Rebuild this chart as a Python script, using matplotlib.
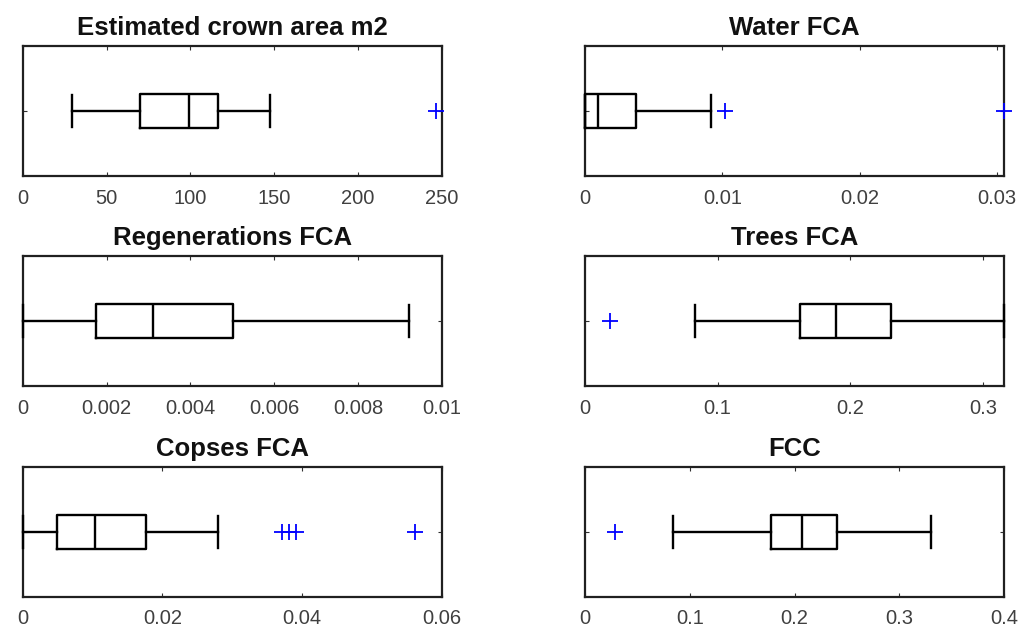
import matplotlib
matplotlib.use("Agg")
import matplotlib.pyplot as plt

# ---- data ----
titles = ["Estimated crown area m2", "Water FCA", "Regenerations FCA",
          "Trees FCA", "Copses FCA", "FCC"]

whislo = [29.6, 0.0, 0.0, 0.0833, 0.0, 0.0839]
q1 = [69.8, 0.0, 0.00175, 0.162, 0.00495, 0.178]
med = [99.2, 0.00097, 0.00312, 0.189, 0.0104, 0.207]
q3 = [116.3, 0.0037, 0.00503, 0.231, 0.0177, 0.241]
whishi = [147.6, 0.0092, 0.00923, 0.316, 0.0279, 0.330]
fliers = [[246.8], [0.0102, 0.0305], [], [0.0188],
          [0.0371, 0.0381, 0.0391, 0.0562], [0.0288]]

xlims = [(0, 250), (0, 0.0305), (0, 0.01), (0, 0.316), (0, 0.06), (0, 0.4)]
xticks = [[0, 50, 100, 150, 200, 250],
          [0, 0.01, 0.02, 0.03],
          [0, 0.002, 0.004, 0.006, 0.008, 0.01],
          [0, 0.1, 0.2, 0.3],
          [0, 0.02, 0.04, 0.06],
          [0, 0.1, 0.2, 0.3, 0.4]]
xticklabels = [["0", "50", "100", "150", "200", "250"],
               ["0", "0.01", "0.02", "0.03"],
               ["0", "0.002", "0.004", "0.006", "0.008", "0.01"],
               ["0", "0.1", "0.2", "0.3"],
               ["0", "0.02", "0.04", "0.06"],
               ["0", "0.1", "0.2", "0.3", "0.4"]]

# ---- layout ----
plt.rcParams['font.family'] = ['Liberation Sans', 'DejaVu Sans']
W, H = 1036, 631
fig = plt.figure(figsize=(W / 100, H / 100), dpi=100)

col_x = [22.7, 585.0]
row_top = [46.0, 256.0, 467.0]
ax_w, ax_h = 419.0, 130.0
tick_col = '#404040'

for i in range(6):
    r, c = divmod(i, 2)
    left = col_x[c] / W
    bottom = (H - row_top[r] - ax_h) / H
    ax = fig.add_axes([left, bottom, ax_w / W, ax_h / H])
    stats = [dict(whislo=whislo[i], q1=q1[i], med=med[i], q3=q3[i],
                  whishi=whishi[i], fliers=fliers[i])]
    ax.bxp(stats, positions=[1], widths=0.254, capwidths=0.24,
           orientation='horizontal',
           boxprops=dict(color='black', linewidth=1.7),
           medianprops=dict(color='black', linewidth=1.7),
           whiskerprops=dict(color='black', linewidth=1.7, linestyle='-'),
           capprops=dict(color='black', linewidth=1.7),
           flierprops=dict(marker='+', markeredgecolor='blue',
                           markersize=12, markeredgewidth=1.3,
                           linestyle='none'))
    ax.set_xlim(*xlims[i])
    ax.set_ylim(0.5, 1.5)
    ax.set_xticks(xticks[i])
    ax.set_xticklabels(xticklabels[i])
    ax.set_yticks([1])
    ax.set_yticklabels([])
    ax.tick_params(axis='x', direction='in', length=3, width=0.8,
                   top=True, bottom=True, labelsize=14.5,
                   labelcolor=tick_col, color='#303030', pad=9)
    ax.tick_params(axis='y', direction='in', length=3, width=0.8,
                   left=True, right=True, color='#303030')
    for s in ax.spines.values():
        s.set_linewidth(1.6)
        s.set_color('#202020')
    ax.set_title(titles[i], fontsize=18.5, fontweight='bold', pad=8,
                 color='#111111')
    for art in ax.lines:
        art.set_clip_on(False)
        art.set_zorder(3)

fig.savefig("out.png", dpi=100)
